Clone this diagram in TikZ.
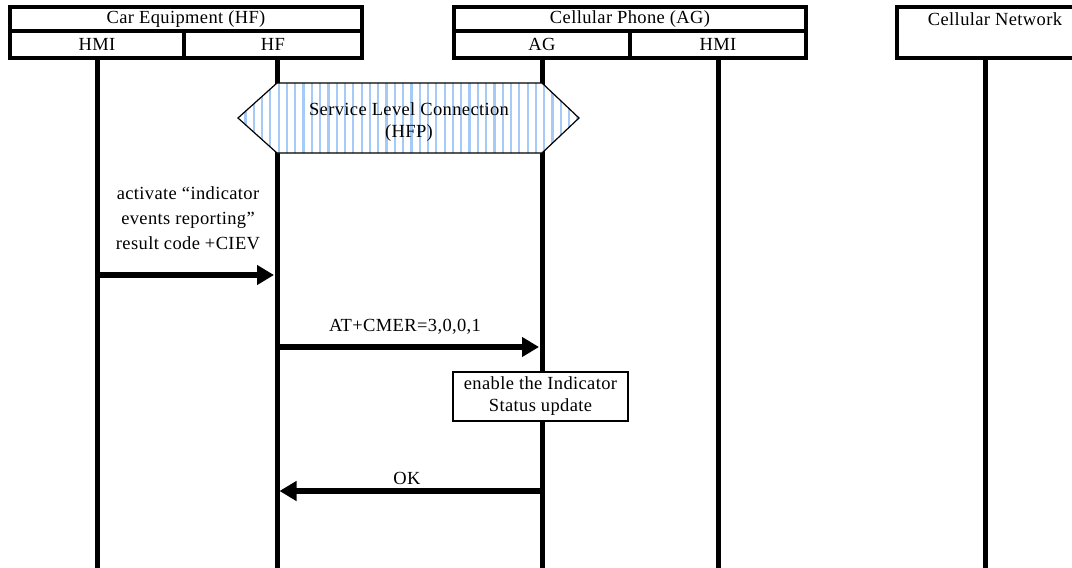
\documentclass[tikz,border=0pt]{standalone}
\usepackage{fontspec}
\setmainfont{Liberation Serif}[LetterSpace=2]
\usetikzlibrary{arrows.meta}
\definecolor{stripeblue}{RGB}{165,202,245}
\begin{document}
\begin{tikzpicture}[x=1pt,y=-1pt,
  hdrbox/.style={line width=4pt},
  lifeline/.style={line width=5pt},
  msg/.style={line width=5.5pt,-{Triangle[length=17pt,width=19pt]}},
  lbl/.style={font=\fontsize{18.5}{22}\selectfont,inner sep=0pt,align=center},
  actionbox/.style={draw,line width=1.2pt,fill=white,minimum width=175pt,minimum height=49pt}]
\useasboundingbox (0,0) rectangle (1072,568);

% lifeline end points
\coordinate (hmiT) at (97.5,57);  \coordinate (hmiB) at (97.5,572);
\coordinate (hfT)  at (277,57);   \coordinate (hfB)  at (277,572);
\coordinate (agT)  at (542,57);   \coordinate (agB)  at (542,572);
\coordinate (phT)  at (718,57);   \coordinate (phB)  at (718,572);
\coordinate (netT) at (985,57);   \coordinate (netB) at (985,572);

% lifelines
\draw[lifeline] (hmiT) -- (hmiB);
\draw[lifeline] (hfT) -- (hfB);
\draw[lifeline] (agT) -- (agB);
\draw[lifeline] (phT) -- (phB);
\draw[lifeline] (netT) -- (netB);

% entity header boxes
\draw[hdrbox] (9.5,7) rectangle (362,57.5);
\draw[hdrbox] (9.5,31) -- (362,31) (184,31) -- (184,57.5);
\draw[hdrbox] (454,7) rectangle (806,57.5);
\draw[hdrbox] (454,31) -- (806,31) (630,31) -- (630,57.5);
\draw[hdrbox] (897,7) rectangle (1093,57.5);

\node[lbl] (car)   at (186,19)  {Car Equipment (HF)};
\node[lbl] (carhmi) at (97,44)  {HMI};
\node[lbl] (carhf) at (273,44)  {HF};
\node[lbl] (phone) at (630,19)  {Cellular Phone (AG)};
\node[lbl] (phag)  at (542,44)  {AG};
\node[lbl] (phhmi) at (718,44)  {HMI};
\node[lbl] (net)   at (995,19)  {Cellular Network};

% service level connection (striped hexagon across HF and AG)
\def\hexpath{(238,118) -- (277,83) -- (542,83) -- (579,118) -- (542,153) -- (277,153) -- cycle}
\fill[white] \hexpath;
\begin{scope}
  \clip \hexpath;
  \foreach \x in {236,244.3,...,582} \fill[stripeblue] (\x,80) rectangle ++(2.2,76);
\end{scope}
\draw[line width=1.2pt,line join=miter] \hexpath;
\node[lbl] (slc) at (409,122) {Service Level Connection\\(HFP)};

% messages
\coordinate (m1s) at (97.5,275);  \coordinate (m1e) at (274,275);
\coordinate (m2s) at (277,347);   \coordinate (m2e) at (539,347);
\coordinate (m3s) at (542,491);   \coordinate (m3e) at (279.5,491);

\draw[msg] (m1s) -- (m1e);
\node[lbl,font=\fontsize{18.5}{25}\selectfont] (m1lbl) at (188,218)
  {activate “indicator\\events reporting”\\result code +CIEV};

\draw[msg] (m2s) -- (m2e);
\node[lbl] (m2lbl) at (405,327) {AT+CMER=3,0,0,1};

\node[actionbox,lbl] (enable) at (540.5,396.5) {enable the Indicator\\Status update};

\draw[msg] (m3s) -- (m3e);
\node[lbl] (m3lbl) at (407,478) {OK};
\end{tikzpicture}
\end{document}
